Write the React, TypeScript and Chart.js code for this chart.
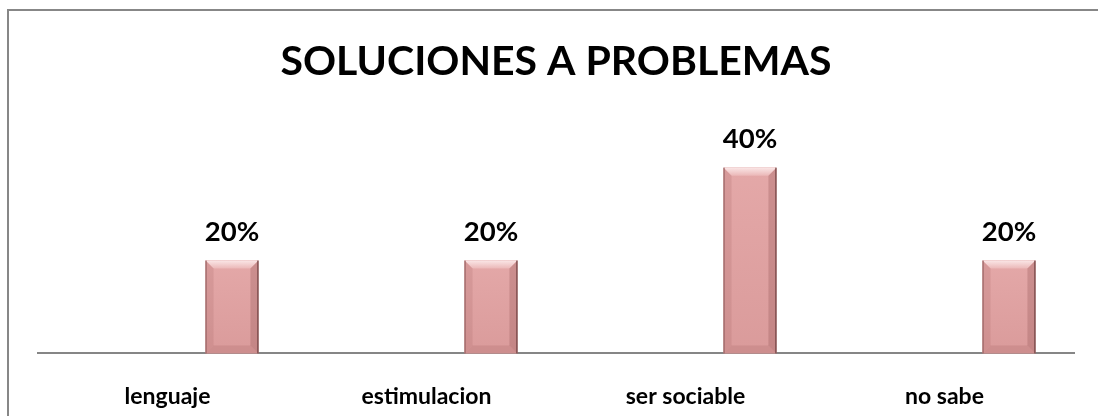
import React, { useEffect, useRef } from "react";
import { Chart, registerables } from "chart.js";

Chart.register(...registerables);

const title = "SOLUCIONES A PROBLEMAS";
const categories = ["lenguaje", "estimulacion", "ser sociable", "no sabe"];
const values = [0.2, 0.2, 0.4, 0.2];
const valueLabels = ["20%", "20%", "40%", "20%"];
const emptySeries = [null, null, null, null];

const FONT = "Lato, 'Open Sans', sans-serif";

const bevelPlugin = {
  id: "bevelBars",
  afterDatasetsDraw(chart: any) {
    const ctx = chart.ctx;
    const meta = chart.getDatasetMeta(1);
    meta.data.forEach((bar: any, i: number) => {
      const { x, y, base, width } = bar.getProps(["x", "y", "base", "width"], true);
      const x0 = x - width / 2;
      const x1 = x + width / 2;
      const top = y;
      const bot = base;
      const h = bot - top;
      const b = Math.min(8, h / 3);
      ctx.save();
      const g = ctx.createLinearGradient(0, top, 0, bot);
      g.addColorStop(0, "#E4A8A8");
      g.addColorStop(1, "#DA9B9B");
      ctx.fillStyle = g;
      ctx.fillRect(x0, top, width, h);
      const gt = ctx.createLinearGradient(0, top, 0, top + b);
      gt.addColorStop(0, "#FAE6E6");
      gt.addColorStop(1, "#EBB8B8");
      ctx.fillStyle = gt;
      ctx.beginPath();
      ctx.moveTo(x0, top);
      ctx.lineTo(x1, top);
      ctx.lineTo(x1 - b, top + b);
      ctx.lineTo(x0 + b, top + b);
      ctx.closePath();
      ctx.fill();
      ctx.fillStyle = "rgba(170,105,105,0.22)";
      ctx.beginPath();
      ctx.moveTo(x0, top);
      ctx.lineTo(x0 + b, top + b);
      ctx.lineTo(x0 + b, bot - b);
      ctx.lineTo(x0, bot);
      ctx.closePath();
      ctx.fill();
      ctx.fillStyle = "rgba(140,80,80,0.28)";
      ctx.beginPath();
      ctx.moveTo(x1, top);
      ctx.lineTo(x1 - b, top + b);
      ctx.lineTo(x1 - b, bot - b);
      ctx.lineTo(x1, bot);
      ctx.closePath();
      ctx.fill();
      ctx.fillStyle = "rgba(160,95,95,0.22)";
      ctx.beginPath();
      ctx.moveTo(x0, bot);
      ctx.lineTo(x0 + b, bot - b);
      ctx.lineTo(x1 - b, bot - b);
      ctx.lineTo(x1, bot);
      ctx.closePath();
      ctx.fill();
      ctx.strokeStyle = "#8E5C5C";
      ctx.lineWidth = 1;
      ctx.beginPath();
      ctx.moveTo(x0 + 0.5, top);
      ctx.lineTo(x0 + 0.5, bot);
      ctx.stroke();
      ctx.strokeStyle = "#5E3434";
      ctx.beginPath();
      ctx.moveTo(x1 - 0.5, top);
      ctx.lineTo(x1 - 0.5, bot);
      ctx.stroke();
      ctx.fillStyle = "#000";
      ctx.font = `bold 27.5px ${FONT}`;
      ctx.textAlign = "center";
      ctx.textBaseline = "alphabetic";
      ctx.fillText(valueLabels[i], x, top - 20);
      ctx.restore();
    });
  },
};

export default function App() {
  const ref = useRef<HTMLCanvasElement>(null);
  useEffect(() => {
    if (!ref.current) return;
    const chart = new Chart(ref.current, {
      type: "bar",
      data: {
        labels: categories,
        datasets: [
          { data: emptySeries as any, backgroundColor: "transparent" },
          { data: values, backgroundColor: "#DDA0A0", borderWidth: 0 },
        ],
      },
      options: {
        responsive: false,
        animation: false,
        events: [],
        datasets: { bar: { categoryPercentage: 0.996, barPercentage: 0.41 } },
        layout: { padding: { left: 38, right: 24, top: 0, bottom: -23 } },
        plugins: {
          legend: { display: false },
          tooltip: { enabled: false },
          title: {
            display: true,
            text: title,
            color: "#000",
            font: { family: FONT, size: 41, weight: "bold" },
            padding: { top: 37, bottom: 35 },
          },
        },
        scales: {
          x: {
            grid: { display: false, drawTicks: false },
            border: { display: true, color: "#868686", width: 2 },
            ticks: {
              color: "#000",
              padding: 29,
              font: { family: FONT, size: 23, weight: "bold" },
            },
          },
          y: { display: false, min: 0, max: 0.5 },
        },
      },
      plugins: [bevelPlugin],
    });
    return () => chart.destroy();
  }, []);
  return (
    <div style={{ position: "fixed", left: 0, top: 0, width: 1098, height: 416, overflow: "hidden", background: "#fff" }}>
      <canvas ref={ref} width={1098} height={416} style={{ position: "absolute", left: 0, top: 0 }} />
      <div
        style={{
          position: "absolute",
          left: 7,
          top: 9,
          width: 1200,
          height: 500,
          border: "2px solid #878787",
          pointerEvents: "none",
        }}
      />
    </div>
  );
}
